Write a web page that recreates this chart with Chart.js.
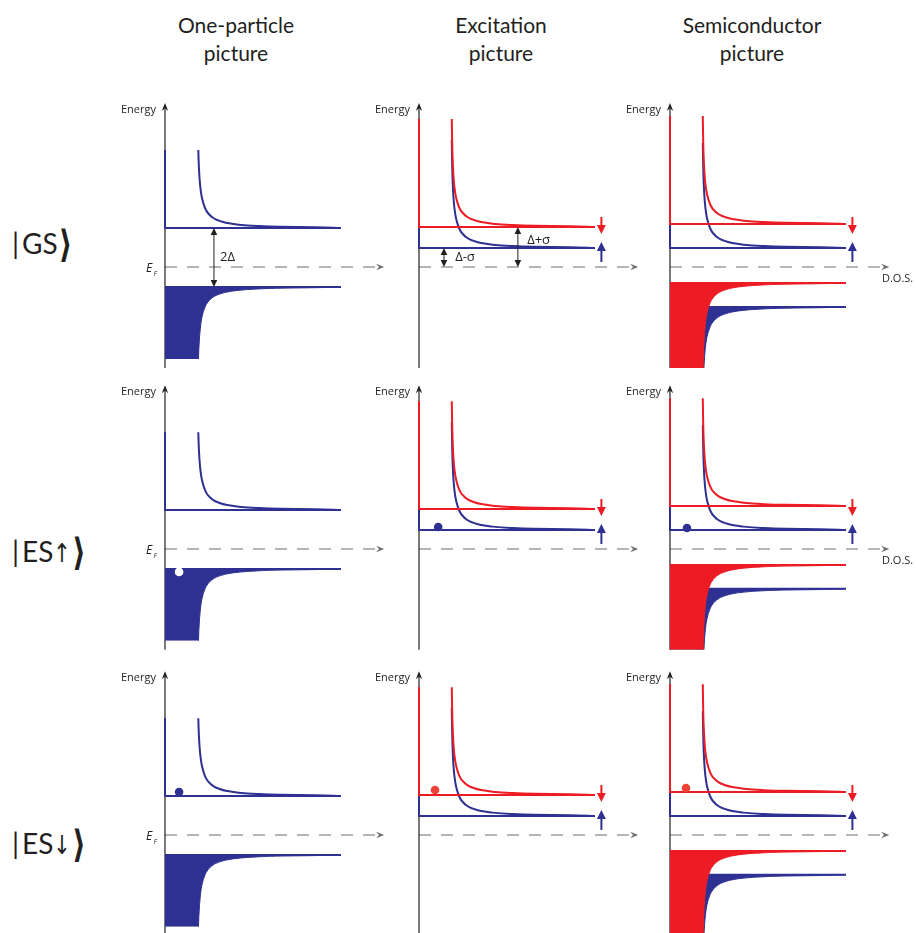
<!DOCTYPE html>
<html>
<head>
<meta charset="utf-8">
<script src="https://cdn.jsdelivr.net/npm/chart.js@4.4.1/dist/chart.umd.min.js"></script>
<style>
  html, body { margin: 0; padding: 0; background: #fff; }
  #fig { position: relative; width: 916px; height: 933px; overflow: hidden; background: #fff; }
  canvas.panel { position: absolute; }
  .title { position: absolute; width: 220px; margin-left: -110px; text-align: center;
           font-family: Lato, "Open Sans", sans-serif; font-size: 21px; line-height: 28px; color: #231F20; top: 11px; }
  .ket { position: absolute; left: 12px; height: 34px; font-family: Lato, "Open Sans", sans-serif;
         font-size: 28px; line-height: 34px; color: #231F20; white-space: nowrap; }
  .ket .bar { display: inline-block; margin-right: 3px; }
  .ket .spin { display: inline-block; font-family: "DejaVu Sans", sans-serif; font-size: 26px; transform: scaleX(0.8); margin: 0 -2px; }
  .ket .ang { display: inline-block; font-family: "DejaVu Sans", sans-serif; font-weight: bold; font-size: 30px;
              margin-left: 1px; transform: scaleY(1.25); }
</style>
</head>
<body>
<div id="fig"></div>
<script>
// ---- Figure content -------------------------------------------------------
const COLUMN_TITLES = ['One-particle', 'Excitation', 'Semiconductor'];
const TITLE_SECOND_LINE = 'picture';
const ROW_STATES = ['GS', 'ES', 'ES'];
const ROW_SPINS = ['', '↑', '↓'];

// BCS density of states along a band: distance from the gap edge (energy units)
// and the density of states there (normal-state units)
const EDGE_OFFSET = [0, 0.07, 0.12, 0.2, 0.35, 0.5, 0.75, 1, 1.5, 2, 3, 4, 5, 6.1, 7.2, 7.8, 8.5, 10.5, 10.8];
const DOS_VALUE   = [5.5, 4.7, 3.6, 2.87, 2.25, 1.94, 1.67, 1.51, 1.34, 1.25, 1.155, 1.107, 1.079, 1.059, 1.046, 1.041, 1.036, 1.026, 1.025];

// Band edges relative to E_F and the energy range drawn, one entry per column
// (one-particle, excitation, semiconductor); null = band not shown
const UP_EMPTY_EDGE    = [3.9, 1.9, 1.9];
const UP_EMPTY_SPAN    = [7.8, 10.8, 10.5];
const DOWN_EMPTY_EDGE  = [null, 4.0, 4.3];
const DOWN_EMPTY_SPAN  = [null, 10.8, 10.8];
const UP_FILLED_EDGE   = [-2.0, null, -4.0];
const UP_FILLED_SPAN   = [7.2, null, 6.1];
const DOWN_FILLED_EDGE = [null, null, -1.6];
const DOWN_FILLED_SPAN = [null, null, 8.5];

// Excited carriers (row, column, DOS position, energy, type)
const CARRIER_ROW    = [1, 1, 1, 2, 2, 2];
const CARRIER_COL    = [0, 1, 2, 0, 1, 2];
const CARRIER_DOS    = [0.44, 0.6, 0.53, 0.44, 0.5, 0.5];
const CARRIER_ENERGY = [-2.3, 2.2, 2.1, 4.3, 4.5, 4.7];
const CARRIER_KIND   = ['hole', 'up', 'up', 'up', 'down', 'down'];

// Gap markers in the ground-state row
const GAP_LABELS = ['2Δ', 'Δ+σ', 'Δ-σ'];
const GAP_COL    = [0, 1, 1];
const GAP_DOS    = [1.53, 3.09, 0.78];
const GAP_FROM   = [UP_FILLED_EDGE[0], 0, 0];
const GAP_TO     = [UP_EMPTY_EDGE[0], DOWN_EMPTY_EDGE[1], UP_EMPTY_EDGE[1]];

// ---- Styling / layout -----------------------------------------------------
const BLUE = '#2E3192', RED = '#ED1C24', DOT_RED = '#EF4136';
const INK = '#231F20', GREY = '#6D6E71';
const COL_AXIS_X = [165, 419, 670];
const ROW_EF_Y = [267, 549, 835];
const KET_CENTER_Y = [243, 551, 843];
const TITLE_CENTER_X = [236, 501, 752];
const PX_PER_DOS = 32, PX_PER_E = 10;
const X_MAX = 7, Y_MIN = -10.5, Y_MAX = 17;
const PAD = { left: 60, right: 50, top: 4, bottom: 4 };
const AXIS_TOP = 16.4, AXIS_BOTTOM = -10.1, EF_ARROW_TIP = 6.85;

const fig = document.getElementById('fig');

COLUMN_TITLES.forEach((t, c) => {
  const d = document.createElement('div');
  d.className = 'title';
  d.style.left = TITLE_CENTER_X[c] + 'px';
  d.innerHTML = t + '<br>' + TITLE_SECOND_LINE;
  fig.appendChild(d);
});

ROW_STATES.forEach((s, r) => {
  const d = document.createElement('div');
  d.className = 'ket';
  d.style.top = (KET_CENTER_Y[r] - 17) + 'px';
  d.innerHTML = '<span class="bar">|</span>' + s +
    (ROW_SPINS[r] ? '<span class="spin">' + ROW_SPINS[r] + '</span>' : '') +
    '<span class="ang">⟩</span>';
  fig.appendChild(d);
});

// ---- Dataset builders -----------------------------------------------------
function conductionCurve(edge, span) {
  const pts = [];
  EDGE_OFFSET.forEach((d, i) => { if (d <= span + 1e-9) pts.push({ x: DOS_VALUE[i], y: edge + d }); });
  return pts;
}
function valenceCurve(edge, span) {
  const pts = [];
  EDGE_OFFSET.forEach((d, i) => { if (d <= span + 1e-9) pts.push({ x: DOS_VALUE[i], y: edge - d }); });
  return pts.reverse();
}
function lineSet(data, color, order, width) {
  return { data, borderColor: color, borderWidth: width || 2, tension: 0, fill: false,
           pointRadius: 0, order, clip: false, borderJoinStyle: 'miter' };
}
function curveSet(data, color, order) {
  return { data, borderColor: color, borderWidth: 2, cubicInterpolationMode: 'monotone',
           fill: false, pointRadius: 0, order, clip: false };
}
function emptyBand(edge, span, color, order) {
  return [
    lineSet([{ x: 0, y: edge + span }, { x: 0, y: edge }, { x: DOS_VALUE[0], y: edge }], color, order),
    curveSet(conductionCurve(edge, span), color, order)
  ];
}
function filledBand(edge, span, color, order) {
  return [
    { data: valenceCurve(edge, span), borderColor: color, backgroundColor: color, borderWidth: 1,
      cubicInterpolationMode: 'monotone', fill: 'origin', pointRadius: 0, order: order + 0.5, clip: false },
    lineSet([{ x: 0, y: edge }, { x: DOS_VALUE[0], y: edge }], color, order)
  ];
}

function panelDatasets(r, c) {
  let ds = [];
  // drawn bottom to top: higher order values are painted first
  if (UP_FILLED_EDGE[c] !== null) ds = ds.concat(filledBand(UP_FILLED_EDGE[c], UP_FILLED_SPAN[c], BLUE, 9));
  if (DOWN_FILLED_EDGE[c] !== null) ds = ds.concat(filledBand(DOWN_FILLED_EDGE[c], DOWN_FILLED_SPAN[c], RED, 7));
  if (UP_EMPTY_EDGE[c] !== null) ds = ds.concat(emptyBand(UP_EMPTY_EDGE[c], UP_EMPTY_SPAN[c], BLUE, 5));
  if (DOWN_EMPTY_EDGE[c] !== null) ds = ds.concat(emptyBand(DOWN_EMPTY_EDGE[c], DOWN_EMPTY_SPAN[c], RED, 3));
  CARRIER_ROW.forEach((cr, i) => {
    if (cr !== r || CARRIER_COL[i] !== c) return;
    const k = CARRIER_KIND[i];
    const col = k === 'hole' ? '#FFFFFF' : (k === 'up' ? BLUE : DOT_RED);
    ds.push({ type: 'scatter', data: [{ x: CARRIER_DOS[i], y: CARRIER_ENERGY[i] }],
              pointRadius: 4.3, pointBackgroundColor: col, pointBorderWidth: 0, order: 0, clip: false });
  });
  return ds;
}

// ---- Drawing helpers ------------------------------------------------------
function arrowHead(ctx, tx, ty, dir, len, halfW, color, notch) {
  const n = notch || 0;
  let pts;
  if (dir === 'up') pts = [[tx, ty], [tx - halfW, ty + len], [tx, ty + len * (1 - n)], [tx + halfW, ty + len]];
  else if (dir === 'down') pts = [[tx, ty], [tx - halfW, ty - len], [tx, ty - len * (1 - n)], [tx + halfW, ty - len]];
  else pts = [[tx, ty], [tx - len, ty - halfW], [tx - len * (1 - n), ty], [tx - len, ty + halfW]];
  ctx.fillStyle = color;
  ctx.beginPath();
  ctx.moveTo(pts[0][0], pts[0][1]);
  for (let i = 1; i < pts.length; i++) ctx.lineTo(pts[i][0], pts[i][1]);
  ctx.closePath();
  ctx.fill();
}

const panelDecor = {
  id: 'panelDecor',
  beforeDatasetsDraw(chart, args, opts) {
    const { ctx } = chart, sx = chart.scales.x, sy = chart.scales.y;
    const X = v => sx.getPixelForValue(v), Y = v => sy.getPixelForValue(v);
    ctx.save();
    // Fermi level
    ctx.strokeStyle = GREY; ctx.lineWidth = 1.1; ctx.setLineDash([12, 10]);
    ctx.beginPath(); ctx.moveTo(X(0), Y(0)); ctx.lineTo(X(EF_ARROW_TIP) - 9, Y(0)); ctx.stroke();
    ctx.setLineDash([]);
    arrowHead(ctx, X(EF_ARROW_TIP), Y(0), 'right', 8, 3.2, GREY, 0.35);
    // energy axis
    ctx.strokeStyle = INK; ctx.lineWidth = 1.2;
    ctx.beginPath(); ctx.moveTo(X(0), Y(AXIS_BOTTOM)); ctx.lineTo(X(0), Y(AXIS_TOP) + 3); ctx.stroke();
    arrowHead(ctx, X(0), Y(AXIS_TOP), 'up', 8, 3.2, INK, 0.35);
    ctx.restore();
  },
  afterDatasetsDraw(chart, args, opts) {
    const { ctx } = chart, sx = chart.scales.x, sy = chart.scales.y;
    const X = v => sx.getPixelForValue(v), Y = v => sy.getPixelForValue(v);
    const r = opts.row, c = opts.col;
    ctx.save();
    ctx.fillStyle = INK;
    ctx.font = '11px "Open Sans"';
    ctx.textAlign = 'right'; ctx.textBaseline = 'middle';
    ctx.fillText('Energy', X(0) - 9, Y(15.7));
    if (c === 0) {
      ctx.textAlign = 'left'; ctx.textBaseline = 'alphabetic';
      ctx.font = 'italic 12px "Open Sans"';
      ctx.fillText('E', X(0) - 19, Y(0) + 5);
      ctx.font = 'italic 7px "Open Sans"';
      ctx.fillText('F', X(0) - 11.5, Y(0) + 9);
    }
    if (c === 2 && r < 2) {
      ctx.font = '11px "Open Sans"';
      ctx.textAlign = 'left'; ctx.textBaseline = 'middle';
      ctx.fillText('D.O.S.', X(0) + 212, Y(0) + 12);
    }
    // spin arrows beside the spin-split bands
    if (c > 0) {
      ctx.lineWidth = 2;
      ctx.strokeStyle = RED;
      ctx.beginPath(); ctx.moveTo(X(5.7), Y(5.0)); ctx.lineTo(X(5.7), Y(3.3) - 6); ctx.stroke();
      arrowHead(ctx, X(5.7), Y(3.3), 'down', 9, 4.5, RED, 0);
      ctx.strokeStyle = BLUE;
      ctx.beginPath(); ctx.moveTo(X(5.7), Y(0.5)); ctx.lineTo(X(5.7), Y(2.5) + 6); ctx.stroke();
      arrowHead(ctx, X(5.7), Y(2.5), 'up', 9, 4.5, BLUE, 0);
    }
    // gap markers
    if (r === 0) {
      GAP_COL.forEach((gc, i) => {
        if (gc !== c) return;
        const x = X(GAP_DOS[i]);
        const y0 = Y(GAP_FROM[i]), y1 = Y(GAP_TO[i]);
        ctx.strokeStyle = INK; ctx.lineWidth = 1;
        ctx.beginPath(); ctx.moveTo(x, y0 - 5); ctx.lineTo(x, y1 + 5); ctx.stroke();
        arrowHead(ctx, x, y1, 'up', 7, 3.3, INK, 0);
        arrowHead(ctx, x, y0, 'down', 7, 3.3, INK, 0);
      });
      ctx.fillStyle = INK;
      ctx.font = '13px "Open Sans"';
      ctx.textAlign = 'left'; ctx.textBaseline = 'middle';
      if (c === 0) ctx.fillText(GAP_LABELS[0], X(1.72), Y(1.0));
      if (c === 1) {
        ctx.fillText(GAP_LABELS[1], X(3.38), Y(2.7));
        ctx.fillText(GAP_LABELS[2], X(1.13), Y(1.0));
      }
    }
    ctx.restore();
  }
};

// ---- Panels ---------------------------------------------------------------
const plotW = X_MAX * PX_PER_DOS, plotH = (Y_MAX - Y_MIN) * PX_PER_E;
for (let r = 0; r < 3; r++) {
  for (let c = 0; c < 3; c++) {
    const cv = document.createElement('canvas');
    cv.className = 'panel';
    cv.width = PAD.left + plotW + PAD.right;
    cv.height = PAD.top + plotH + PAD.bottom;
    cv.style.left = (COL_AXIS_X[c] - PAD.left) + 'px';
    cv.style.top = (ROW_EF_Y[r] - Y_MAX * PX_PER_E - PAD.top) + 'px';
    fig.appendChild(cv);
    new Chart(cv, {
      type: 'line',
      data: { datasets: panelDatasets(r, c) },
      options: {
        indexAxis: 'y',
        responsive: false,
        animation: false,
        devicePixelRatio: 1,
        layout: { padding: PAD },
        scales: {
          x: { type: 'linear', min: 0, max: X_MAX, display: false },
          y: { type: 'linear', min: Y_MIN, max: Y_MAX, display: false }
        },
        plugins: {
          legend: { display: false },
          tooltip: { enabled: false },
          panelDecor: { row: r, col: c }
        },
        events: []
      },
      plugins: [panelDecor]
    });
  }
}
</script>
</body>
</html>
